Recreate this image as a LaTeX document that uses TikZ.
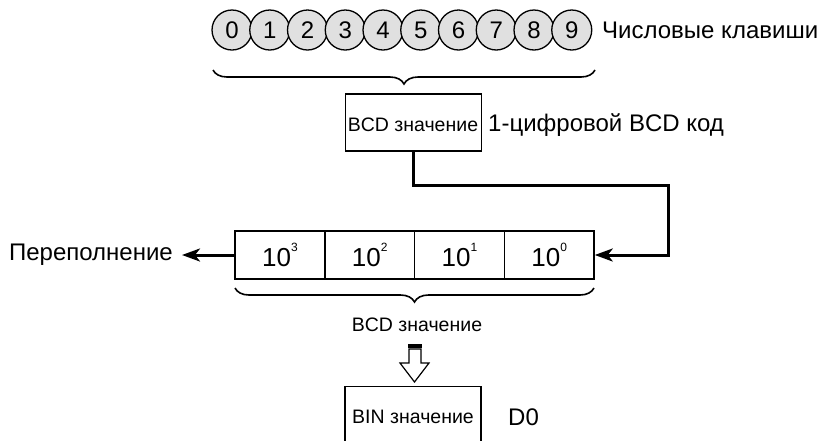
\documentclass[tikz,border=0pt]{standalone}
\usepackage{fontspec}
\setmainfont{Liberation Sans}
\usetikzlibrary{arrows.meta,decorations.pathreplacing,calc}
\begin{document}
\begin{tikzpicture}[x=1pt,y=-1pt,
  key/.style={circle,draw,line width=1.3pt,fill=black!12,minimum size=40pt,inner sep=0pt,font=\fontsize{24}{24}\selectfont},
  big/.style={font=\fontsize{24}{24}\selectfont,inner sep=0pt},
  small/.style={font=\fontsize{19.5}{19.5}\selectfont,inner sep=0pt},
  box/.style={draw,line width=1.3pt,inner sep=0pt},
  cell/.style={box,minimum width=89.75pt,minimum height=48pt,font=\fontsize{26}{26}\selectfont},
  conn/.style={line width=3pt},
  tip/.style={-{Stealth[length=18pt,width=13pt,inset=5pt]}},
  brc/.style={line width=1.6pt,decorate,decoration={brace,amplitude=14pt}}
]
\useasboundingbox (0,0) rectangle (819,440);
\foreach \i in {0,...,9}{
  \node[key] (k\i) at ({232+37.75*\i},30) {\i};
}
\node[big,anchor=west] (keys) at (602,30) {Числовые клавиши};
\draw[brc] (595,70) -- (213,70);

\node[box,minimum width=136pt,minimum height=57pt] (bcd) at (413.5,122.5) {};
\node[small] (bcdtxt) at (413,125) {BCD значение};
\node[big,anchor=west] (digit) at (488,125) {1-цифровой BCD код};

\newcommand\pw[1]{10\raisebox{0.55em}{\fontsize{12}{12}\selectfont #1}}
\node[cell] (c3) at (280,255) {\pw{3}};
\node[cell] (c2) at (369.75,255) {\pw{2}};
\node[cell] (c1) at (459.5,255) {\pw{1}};
\node[cell] (c0) at (549.25,255) {\pw{0}};

\coordinate (turn) at (668,185);
\draw[conn,tip] (bcd.south) |- (turn) |- (c0.east);

\node[big,anchor=east] (ovf) at (173,255) {Переполнение};
\draw[conn,tip] (c3.west) -- ($(ovf.east)+(9,0)$);

\draw[brc] (594,288) -- (235,288);
\node[small] (bcdval) at (417,325) {BCD значение};

% hollow arrow
\fill (408,344) rectangle (422,347.5);
\draw[line width=1.2pt,fill=white] (409,349) -- (421,349) -- (421,363) -- (429,363) -- (414.5,382) -- (400,363) -- (409,363) -- cycle;

\node[box,minimum width=136pt,minimum height=70pt,anchor=north] (bin) at (413,385.5) {};
\node[small] (bintxt) at (413,417) {BIN значение};
\node[big,anchor=west] (d0) at (508,417) {D0};
\end{tikzpicture}
\end{document}
